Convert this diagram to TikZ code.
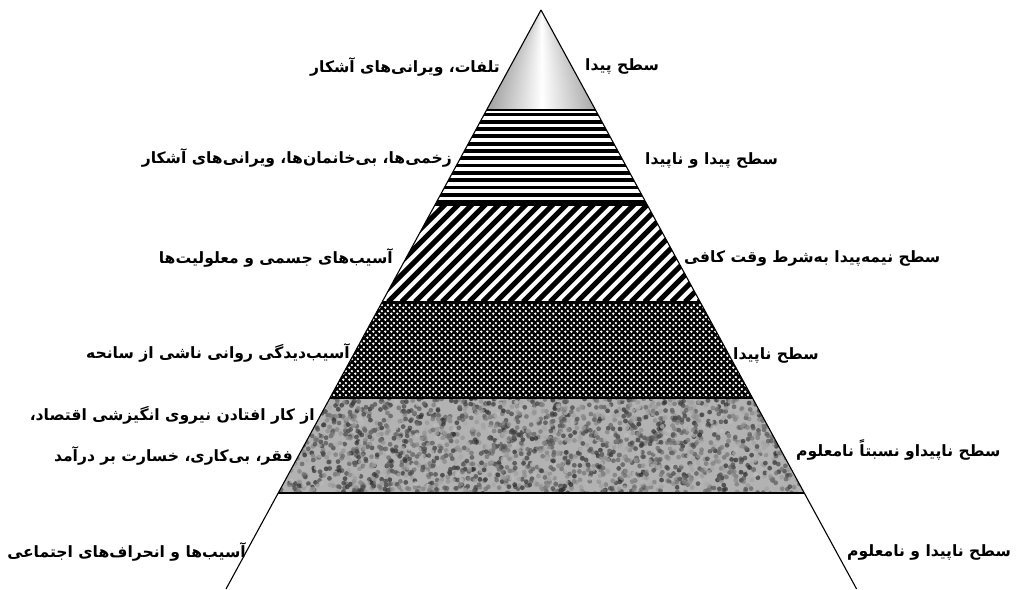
\documentclass[tikz,border=0pt]{standalone}
\usepackage{fontspec}
\newfontfamily\fa[Script=Arabic]{DejaVu Sans}
\TeXXeTstate=1
\usetikzlibrary{patterns}
\pgfdeclarepatternformonly{whitedots}{\pgfqpoint{0pt}{0pt}}{\pgfqpoint{5.6pt}{5.6pt}}{\pgfqpoint{5.6pt}{5.6pt}}{%
  \pgfpathcircle{\pgfqpoint{1.4pt}{1.4pt}}{1.4pt}%
  \pgfpathcircle{\pgfqpoint{4.2pt}{4.2pt}}{1.4pt}%
  \pgfusepath{fill}}
\tikzset{
  lab/.style={font=\fa\bfseries\fontsize{15.6}{19}\selectfont, inner sep=0pt},
  edge/.style={line width=1.1pt, black},
}
\begin{document}
\begin{tikzpicture}[x=1pt,y=-1pt]
\useasboundingbox (0,0) rectangle (1016,589);
% band corner coordinates
\coordinate (apex) at (541,10);
\coordinate (l1) at (486.6,110); \coordinate (r1) at (595.5,110);
\coordinate (l2) at (434.9,205); \coordinate (r2) at (647.3,205);
\coordinate (l3) at (382.2,302); \coordinate (r3) at (700.1,302);
\coordinate (l4) at (329.9,398); \coordinate (r4) at (752.5,398);
\coordinate (l5) at (278.2,493); \coordinate (r5) at (804.2,493);
\coordinate (l6) at (226.0,589); \coordinate (r6) at (856.6,589);
% top triangle: metallic shading, slice by slice
\begin{scope}
  \clip (apex) -- (l1) -- (r1) -- cycle;
  \foreach \k in {0,...,49} {
    \pgfmathsetmacro\yy{10+2*\k}
    \pgfmathsetmacro\xl{541-0.544*(\yy-10)-1.5}
    \pgfmathsetmacro\xr{541+0.545*(\yy+2.5-10)+1.5}
    \pgfmathsetmacro\gl{35+40*\k/49}
    \pgfmathsetmacro\gr{30+40*\k/49}
    \shade[left color=gray!\gl, right color=gray!\gr, middle color=white] (\xl,\yy) rectangle (\xr,\yy+2.5);
  }
\end{scope}
% band 2: horizontal stripes
\begin{scope}
  \clip (l1) -- (l2) -- (r2) -- (r1) -- cycle;
  \fill[white] (400,110) rectangle (700,205);
  \foreach \k in {0,...,12} {
    \fill[black] (400,{112.5+7.3*\k}) rectangle (700,{116.3+7.3*\k});
  }
\end{scope}
% band 3: diagonal stripes
\begin{scope}
  \clip (l2) -- (l3) -- (r3) -- (r2) -- cycle;
  \fill[white] (370,205) rectangle (710,302);
  \foreach \k in {0,...,34} {
    \draw[black, line width=5pt] ({280+13.5*\k},302) -- ({380+13.5*\k},202);
  }
\end{scope}
% band 4: checker dots
\begin{scope}
  \clip (l3) -- (l4) -- (r4) -- (r3) -- cycle;
  \fill[black] (320,302) rectangle (760,398);
  \fill[pattern=whitedots, pattern color=white] (320,302) rectangle (760,398);
\end{scope}
% band 5: grey noise
\begin{scope}
  \clip (l4) -- (l5) -- (r5) -- (r4) -- cycle;
  \fill[gray!60] (270,398) rectangle (810,493);
  \pgfmathsetseed{7}
  \foreach \i in {1,...,2600} {
    \pgfmathsetmacro\xx{270+540*rnd}
    \pgfmathsetmacro\yy{396+99*rnd}
    \pgfmathsetmacro\gg{25+60*rnd}
    \fill[black!\gg, fill opacity=0.7] (\xx,\yy) circle (2.4);
  }
\end{scope}
% outlines
\draw[edge] (apex) -- (l6);
\draw[edge] (apex) -- (r6);
\draw[edge] (l1) -- (r1);
\draw[edge] (l2) -- (r2);
\draw[edge] (l3) -- (r3);
\draw[edge] (l4) -- (r4);
\draw[edge] (l5) -- (r5);
% left labels
\node[lab, anchor=east] (a1) at (500,67) {\beginR تلفات، ویرانی‌های آشکار\endR};
\node[lab, anchor=east] (a2) at (452,158) {\beginR زخمی‌ها، بی‌خانمان‌ها، ویرانی‌های آشکار\endR};
\node[lab, anchor=east] (a3) at (393,258) {\beginR آسیب‌های جسمی و معلولیت‌ها\endR};
\node[lab, anchor=east] (a4) at (350,353) {\beginR آسیب‌دیدگی روانی ناشی از سانحه\endR};
\node[lab, anchor=east] (a5) at (315,415) {\beginR از کار افتادن نیروی انگیزشی اقتصاد،\endR};
\node[lab, anchor=east] (a6) at (293,456) {\beginR فقر، بی‌کاری، خسارت بر درآمد\endR};
\node[lab, anchor=east] (a7) at (246,552) {\beginR آسیب‌ها و انحراف‌های اجتماعی\endR};
% right labels
\node[lab, anchor=west] (b1) at (585,66) {\beginR سطح پیدا\endR};
\node[lab, anchor=west] (b2) at (645,160) {\beginR سطح پیدا و ناپیدا\endR};
\node[lab, anchor=west] (b3) at (684,258) {\beginR سطح نیمه‌پیدا به‌شرط وقت کافی\endR};
\node[lab, anchor=west] (b4) at (733,355) {\beginR سطح ناپیدا\endR};
\node[lab, anchor=west] (b5) at (796,450) {\beginR سطح ناپیداو نسبتاً نامعلوم\endR};
\node[lab, anchor=west] (b6) at (847,552) {\beginR سطح ناپیدا و نامعلوم\endR};
\end{tikzpicture}
\end{document}
